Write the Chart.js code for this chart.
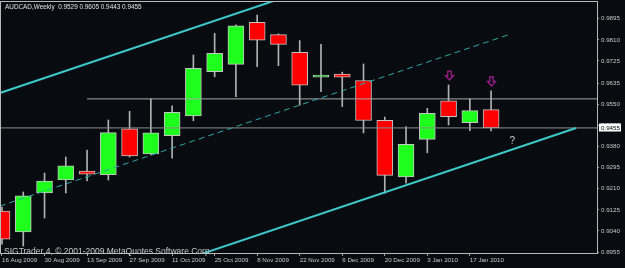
<!DOCTYPE html>
<html><head><meta charset="utf-8">
<script src="https://cdn.jsdelivr.net/npm/chart.js@4/dist/chart.umd.min.js"></script>
<style>html,body{margin:0;padding:0;background:#080c10;}canvas{display:block;}</style>
</head><body>
<canvas id="c" width="625" height="268"></canvas>
<script>
// ---------- data ----------
const titleText = "AUDCAD,Weekly  0.9529 0.9605 0.9443 0.9455";
const copyrightText = "SIGTrader 4, \u00A9 2001-2009 MetaQuotes Software Corp.";
const weeks = ["16 Aug 2009","23 Aug 2009","30 Aug 2009","6 Sep 2009","13 Sep 2009","20 Sep 2009","27 Sep 2009","4 Oct 2009","11 Oct 2009","18 Oct 2009","25 Oct 2009","1 Nov 2009","8 Nov 2009","15 Nov 2009","22 Nov 2009","29 Nov 2009","6 Dec 2009","13 Dec 2009","20 Dec 2009","27 Dec 2009","3 Jan 2010","10 Jan 2010","17 Jan 2010","24 Jan 2010"];
const opens  = [0.9120,0.9036,0.9193,0.9245,0.9281,0.9267,0.9451,0.9350,0.9424,0.9503,0.9682,0.9711,0.9881,0.9831,0.9760,0.9660,0.9672,0.9646,0.9486,0.9258,0.9409,0.9564,0.9476,0.9529];
const highs  = [0.9136,0.9197,0.9273,0.9338,0.9366,0.9487,0.9522,0.9572,0.9544,0.9749,0.9836,0.9870,0.9910,0.9834,0.9807,0.9792,0.9680,0.9713,0.9499,0.9460,0.9534,0.9628,0.9572,0.9605];
const lows   = [0.8987,0.8979,0.9092,0.9193,0.9241,0.9245,0.9338,0.9346,0.9333,0.9484,0.9661,0.9581,0.9702,0.9706,0.9547,0.9601,0.9541,0.9435,0.9192,0.9232,0.9355,0.9467,0.9444,0.9443];
const closes = [0.9007,0.9181,0.9241,0.9302,0.9269,0.9436,0.9342,0.9435,0.9518,0.9695,0.9756,0.9866,0.9809,0.9792,0.9627,0.9668,0.9660,0.9485,0.9264,0.9389,0.9514,0.9500,0.9525,0.9455];
const xTickPos    = [0,2,4,6,8,10,12,14,16,18,20,22];
const xTickLabels = ["16 Aug 2009","30 Aug 2009","13 Sep 2009","27 Sep 2009","11 Oct 2009","25 Oct 2009","8 Nov 2009","22 Nov 2009","6 Dec 2009","20 Dec 2009","3 Jan 2010","17 Jan 2010"];
const yTickValues = [0.9895,0.9810,0.9725,0.9635,0.9550,0.9465,0.9380,0.9295,0.9210,0.9125,0.9040,0.8955];
const currentPrice = 0.9455;
const resistanceX = [4, 30];
const resistanceY = [0.9572, 0.9572];
const priceLineX = [-1, 30];
const channelUpperX = [-1, 14];
const channelUpperY = [0.9570, 1.0002];
const channelMidX = [-1, 23.8];
const channelMidY = [0.9114, 0.9830];
const channelLowerX = [9, 27];
const channelLowerY = [0.8936, 0.9455];
const arrowX = [21, 23];
const arrowTipY = [0.9648, 0.9624];
const questionX = [24];
const questionY = [0.9402];

// ---------- styles ----------
const BULL = '#1eff1e', BEAR = '#ff0000', WICK = '#b0b0b0', OUTLINE = '#c4c4c4';
const CYAN = '#3cc8c8', CYAN_D = '#2fa6a6', GRAY = '#c8c8c8';
const AXFONT = {family: "'Liberation Sans', Arial, sans-serif", size: 6.2};

const pts = (xs, ys) => xs.map((x, i) => ({x, y: ys[i]}));

const bgPlugin = {
  id: 'bg',
  beforeDraw(chart) {
    const c = chart.ctx; c.save(); c.fillStyle = '#080c10';
    c.fillRect(0, 0, chart.width, chart.height); c.restore();
  }
};

const overlayPlugin = {
  id: 'overlay',
  afterDraw(chart) {
    const c = chart.ctx, a = chart.chartArea;
    const xs = chart.scales.x, ys = chart.scales.y;
    c.save();
    // frame
    c.strokeStyle = '#b8b8b8'; c.lineWidth = 1;
    c.strokeRect(a.left - 0.5, a.top - 0.5, a.right - a.left + 1, a.bottom - a.top + 1);
    // arrows
    c.save();
    c.beginPath(); c.rect(a.left, a.top, a.right - a.left, a.bottom - a.top); c.clip();
    c.strokeStyle = '#9a1c8a'; c.lineWidth = 1.3;
    arrowX.forEach((v, i) => {
      const px = Math.round(xs.getPixelForValue(v)) + 0.5, py = ys.getPixelForValue(arrowTipY[i]);
      c.beginPath();
      c.moveTo(px, py); c.lineTo(px + 4, py - 4.5); c.lineTo(px + 1.8, py - 4.5);
      c.lineTo(px + 1.8, py - 9); c.lineTo(px - 1.8, py - 9); c.lineTo(px - 1.8, py - 4.5);
      c.lineTo(px - 4, py - 4.5); c.closePath(); c.stroke();
    });
    // question mark
    c.fillStyle = GRAY; c.font = "10px 'Liberation Sans', Arial, sans-serif";
    c.textAlign = 'center'; c.textBaseline = 'middle';
    questionX.forEach((v, i) => c.fillText('?', xs.getPixelForValue(v), ys.getPixelForValue(questionY[i])));
    c.restore();
    // current price box
    const py = ys.getPixelForValue(currentPrice);
    c.fillStyle = '#ffffff';
    c.fillRect(a.right + 2, Math.round(py) - 4.5, 22, 8);
    c.fillStyle = '#000000'; c.font = "6.2px 'Liberation Sans', Arial, sans-serif";
    c.textAlign = 'left'; c.textBaseline = 'middle';
    c.fillText(currentPrice.toFixed(4), a.right + 4, py);
    // title
    c.fillStyle = '#e0e0e0'; c.textBaseline = 'alphabetic';
    c.font = "6.4px 'Liberation Sans', Arial, sans-serif";
    c.fillText(titleText, 5, 9);
    // copyright
    c.fillStyle = GRAY; c.font = "8.5px 'Liberation Sans', Arial, sans-serif";
    c.fillText(copyrightText, 4, 253.5, 208);
    c.restore();
  }
};

new Chart(document.getElementById('c'), {
  type: 'bar',
  data: {
    datasets: [
      {type: 'line', data: pts(channelUpperX, channelUpperY), borderColor: CYAN, borderWidth: 2, pointRadius: 0, order: 0},
      {type: 'line', data: pts(channelLowerX, channelLowerY), borderColor: CYAN, borderWidth: 2, pointRadius: 0, order: 0},
      {type: 'line', data: pts(channelMidX, channelMidY), borderColor: CYAN_D, borderWidth: 1, borderDash: [6, 4], pointRadius: 0, order: 0},
      {type: 'line', data: pts(resistanceX, resistanceY), borderColor: '#a8a8a8', borderWidth: 1, pointRadius: 0, order: 0},
      {type: 'line', data: pts(priceLineX, [currentPrice, currentPrice]), borderColor: '#8c8c8c', borderWidth: 1, pointRadius: 0, order: 0},
      {label: 'body', data: weeks.map((w, i) => ({x: i, y: [opens[i], closes[i]]})),
       backgroundColor: weeks.map((w, i) => closes[i] >= opens[i] ? BULL : BEAR),
       borderColor: OUTLINE, borderWidth: 1, borderSkipped: false,
       barThickness: 16, grouped: false, order: 1},
      {label: 'wick', data: weeks.map((w, i) => ({x: i, y: [lows[i], highs[i]]})),
       backgroundColor: WICK, borderWidth: 0, barThickness: 1, grouped: false, order: 2}
    ]
  },
  options: {
    responsive: false, animation: false, devicePixelRatio: 1,
    layout: {padding: {left: 1, top: 2, right: 0, bottom: 0}, autoPadding: false},
    plugins: {legend: {display: false}, tooltip: {enabled: false}},
    scales: {
      x: {
        type: 'linear', min: -0.047, max: 27.98, offset: false,
        grid: {display: true, drawOnChartArea: false, drawTicks: true, tickLength: 3, color: '#a0a0a0', offset: false},
        border: {display: false},
        ticks: {autoSkip: false, maxRotation: 0, align: 'start', padding: 1, color: GRAY, font: AXFONT,
                callback: (v, i) => xTickLabels[i]},
        afterBuildTicks: s => { s.ticks = xTickPos.map(v => ({value: v})); },
        afterFit: s => { s.height = 15; s.paddingLeft = 0; s.paddingRight = 0; }
      },
      y: {
        type: 'linear', position: 'right', min: 0.8951, max: 0.99625,
        grid: {display: true, drawOnChartArea: false, drawTicks: true, tickLength: 2, color: '#a0a0a0'},
        border: {display: false},
        ticks: {autoSkip: false, padding: 2, color: GRAY, font: AXFONT, callback: v => Number(v).toFixed(4)},
        afterBuildTicks: s => { s.ticks = yTickValues.map(v => ({value: v})); },
        afterFit: s => { s.width = 28; s.paddingTop = 0; s.paddingBottom = 0; }
      }
    }
  },
  plugins: [bgPlugin, overlayPlugin]
});
</script>
</body></html>
